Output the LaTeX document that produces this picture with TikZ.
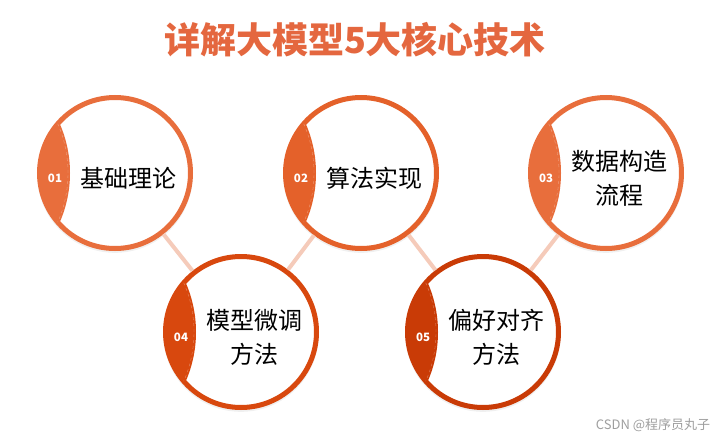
\documentclass[tikz,border=0pt]{standalone}
\usepackage{fontspec}
\newfontfamily\cjk{Noto Sans CJK SC}
\usetikzlibrary{calc,shadows}

\definecolor{orangeA}{HTML}{E86E3C}
\definecolor{orangeB}{HTML}{E4612A}
\definecolor{orangeC}{HTML}{D8480E}
\definecolor{orangeD}{HTML}{C93B06}
\definecolor{titre}{HTML}{E4673F}
\definecolor{lien}{HTML}{F5CBBA}

\begin{document}
\begin{tikzpicture}[x=1pt, y=1pt,
  rond/.style={circle, draw=#1, line width=5pt, fill=white, minimum size=151pt, inner sep=0pt,
    drop shadow={opacity=.12, shadow xshift=0pt, shadow yshift=-2pt, shadow scale=1.03}},
  texte/.style={font=\cjk\fontsize{24}{34}\selectfont, align=center, text=black},
  numero/.style={font=\cjk\bfseries\fontsize{11.5}{13}\selectfont, text=white},
  lienstyle/.style={draw=lien, line width=4pt}]

\useasboundingbox (0,0) rectangle (721,-439);

% Le titre
\node[font=\cjk\bfseries\fontsize{36}{40}\selectfont, text=titre] (titre) at (355,-40) {详解大模型5大核心技术};

% Les cercles
\foreach \n/\x/\y/\col/\txt in {1/115/173/orangeA/{基础理论}, 2/361/173/orangeB/{算法实现},
  3/606/173/orangeA/{数据构造\\流程}, 4/241/332/orangeC/{模型微调\\方法}, 5/483/332/orangeD/{偏好对齐\\方法}}
{
  \node[rond=\col] (c\n) at (\x,-\y) {};
  % Le croissant à gauche
  \begin{scope}
    \clip (c\n.center) circle (75.5);
    \fill[\col] ($(c\n.center)+(-168,0)$) circle (123);
    \draw[white, opacity=.35, dashed, line width=.4pt] ($(c\n.center)+(-170,0)$) circle (123);
  \end{scope}
  \node[numero] (n\n) at ($(c\n.center)+(-60,-5)$) {0\n};
  \node[texte] (t\n) at ($(c\n.center)+(13,-5)$) {\txt};
}

% Les liens entre les cercles
\draw[lienstyle] (c1) -- (c4);
\draw[lienstyle] (c4) -- (c2);
\draw[lienstyle] (c2) -- (c5);
\draw[lienstyle] (c5) -- (c3);

% Le filigrane
\node[font=\cjk\fontsize{13}{15}\selectfont, text=black!38] (csdn) at (653,-425) {CSDN @程序员丸子};

\end{tikzpicture}
\end{document}
